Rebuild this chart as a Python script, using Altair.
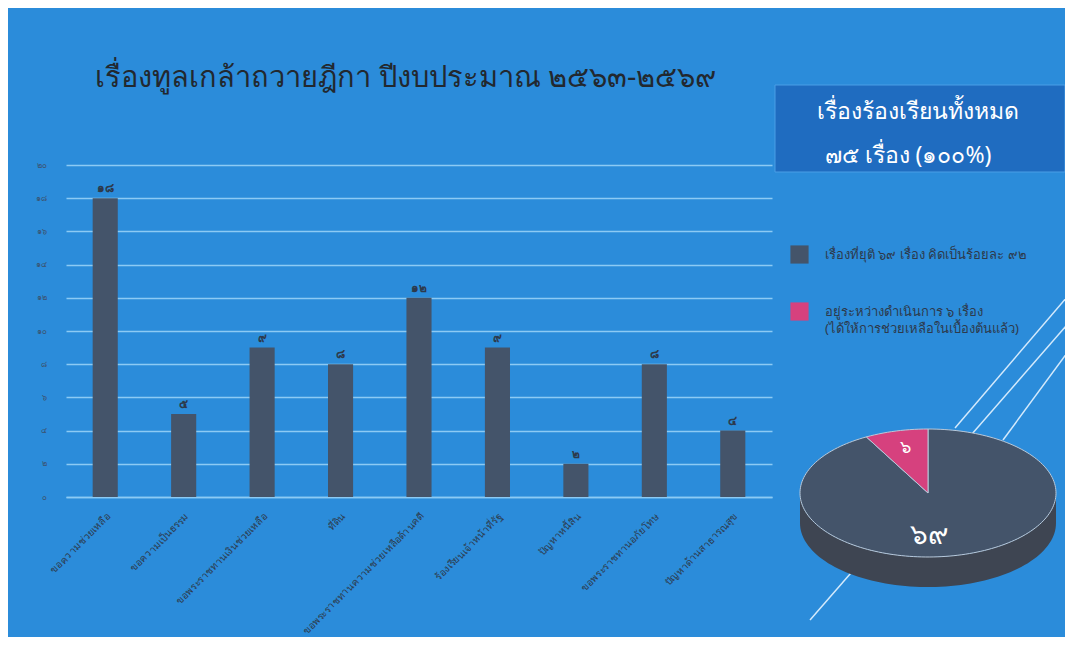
import altair as alt
import pandas as pd
import numpy as np

# ---------------- data ----------------
categories = [
    "ขอความช่วยเหลือ",
    "ขอความเป็นธรรม",
    "ขอพระราชทานเงินช่วยเหลือ",
    "ที่ดิน",
    "ขอพระราชทานความช่วยเหลือด้านคดี",
    "ร้องเรียนเจ้าหน้าที่รัฐ",
    "ปัญหาหนี้สิน",
    "ขอพระราชทานอภัยโทษ",
    "ปัญหาด้านสาธารณสุข",
]
counts = [18, 5, 9, 8, 12, 9, 2, 8, 4]
y_ticks = [0, 2, 4, 6, 8, 10, 12, 14, 16, 18, 20]

pie_status = ["เรื่องที่ยุติ ๖๙ เรื่อง คิดเป็นร้อยละ ๙๒",
              "อยู่ระหว่างดำเนินการ ๖ เรื่อง|(ได้ให้การช่วยเหลือในเบื้องต้นแล้ว)"]
pie_values = [69, 6]

title_text = "เรื่องทูลเกล้าถวายฎีกา ปีงบประมาณ ๒๕๖๓-๒๕๖๙"
box_line1 = "เรื่องร้องเรียนทั้งหมด"
box_line2 = "๗๕ เรื่อง (๑๐๐%)"

THAI = "๐๑๒๓๔๕๖๗๘๙"
def thai_num(n):
    return "".join(THAI[int(c)] for c in str(n))

bar_df = pd.DataFrame({"cat": categories, "val": counts,
                       "lab": [thai_num(v) for v in counts]})

# ---------------- pie geometry derived from values ----------------
total = sum(pie_values)
frac = [v / total for v in pie_values]
a_pink0 = np.pi / 2
a_pink1 = a_pink0 + 2 * np.pi * frac[1]
a_dark0 = a_pink1
a_dark1 = a_pink0 + 2 * np.pi
spans = {pie_status[0]: (a_dark0, a_dark1), pie_status[1]: (a_pink0, a_pink1)}

rows = []
for s, (a0, a1) in spans.items():
    n = max(8, int(200 * (a1 - a0) / (2 * np.pi)))
    pts = [(0.0, 0.0)] + [(np.cos(a), np.sin(a)) for a in np.linspace(a0, a1, n)] + [(0.0, 0.0)]
    for i, (px, py) in enumerate(pts):
        rows.append({"status": s, "ord": i, "px": px, "py": py})
face_df = pd.DataFrame(rows)

DEPTH = 0.47
side_rows = []
lower = np.linspace(np.pi, 2 * np.pi, 80)
k = 0
for a in lower:
    side_rows.append({"ord": k, "px": np.cos(a), "py": np.sin(a)}); k += 1
for a in lower[::-1]:
    side_rows.append({"ord": k, "px": np.cos(a), "py": np.sin(a) - DEPTH}); k += 1
side_df = pd.DataFrame(side_rows)

lab_rows = []
for s, v, (a0, a1), r in zip(pie_status, pie_values, [spans[pie_status[0]], spans[pie_status[1]]], [0.6, 0.72]):
    am = (a0 + a1) / 2
    lab_rows.append({"status": s, "lab": thai_num(v), "px": r * np.cos(am), "py": r * np.sin(am)})
plab_df = pd.DataFrame(lab_rows)

# ---------------- styling ----------------
BG = "#2b8cda"
BAR = "#44546A"
PINK = "#D6417E"
GRID = "#8ccaf4"
DARKTXT = "#2d3a4c"
FONT = "Noto Sans"

px_scale = alt.Scale(domain=[-1, 1], range=[734, 990])
py_scale = alt.Scale(domain=[-1, 1], range=[392, 264])
color_scale = alt.Scale(domain=pie_status, range=[BAR, PINK])

digits_expr = "['๐','๑','๒','๓','๔','๕','๖','๗','๘','๙']"
ylab_expr = (f"datum.value < 10 ? {digits_expr}[datum.value] : "
             f"{digits_expr}[floor(datum.value/10)] + {digits_expr}[datum.value % 10]")

x_axis = alt.Axis(labelAngle=-45, labelFontSize=10, labelColor=DARKTXT,
                  labelPadding=14, ticks=False, domainColor=GRID, domainWidth=1.5,
                  labelLimit=200, labelFont=FONT)
y_axis = alt.Axis(values=y_ticks, labelExpr=ylab_expr, labelFontSize=8,
                  labelColor="#3b5370", labelPadding=20, ticks=False, domain=False,
                  labelOverlap=False, gridColor=GRID, gridWidth=1.5, labelFont=FONT,
                  tickCount=11)
x_scale = alt.Scale(paddingInner=0.68, paddingOuter=0.34)
y_scale = alt.Scale(domain=[0, 20])

bars = alt.Chart(bar_df).mark_bar(color=BAR).encode(
    x=alt.X("cat:N", sort=None, title=None, scale=x_scale, axis=x_axis),
    y=alt.Y("val:Q", title=None, scale=y_scale, axis=y_axis),
)

bar_text = alt.Chart(bar_df).mark_text(dy=-10, fontSize=12, fontWeight="bold",
                                       color=DARKTXT, font=FONT).encode(
    x=alt.X("cat:N", sort=None, title=None, scale=x_scale, axis=x_axis),
    y=alt.Y("val:Q", title=None, scale=y_scale, axis=y_axis),
    text="lab:N")

bar_layer = alt.layer(bars, bar_text)

one = pd.DataFrame({"t": [title_text]})
title = alt.Chart(one).mark_text(align="left", baseline="middle", fontSize=29,
                                 color="#22282f", font=FONT).encode(
    x=alt.value(29), y=alt.value(-87), text="t:N")

box = alt.Chart(one).mark_rect(color="#1f6cc0", stroke="#4a9ee6", strokeWidth=1).encode(
    x=alt.value(709), x2=alt.value(999), y=alt.value(-80), y2=alt.value(7))
box_t1 = alt.Chart(pd.DataFrame({"t": [box_line1]})).mark_text(
    fontSize=23, color="white", font=FONT, baseline="middle").encode(
    x=alt.value(852), y=alt.value(-53), text="t:N")
box_t2 = alt.Chart(pd.DataFrame({"t": [box_line2]})).mark_text(
    fontSize=23, color="white", font=FONT, baseline="middle").encode(
    x=alt.value(842), y=alt.value(-9), text="t:N")

deco = []
for (x1, y1, x2, y2) in [(1007, 125, 889, 263), (1007, 153, 744, 455), (1007, 180, 937, 275)]:
    deco.append(alt.Chart(one).mark_rule(color="#d4eafc", strokeWidth=1.5).encode(
        x=alt.value(x1), y=alt.value(y1), x2=alt.value(x2), y2=alt.value(y2)))

side = alt.Chart(side_df).mark_line(filled=True, color="#3e4552", strokeWidth=0).encode(
    x=alt.X("px:Q", scale=px_scale, axis=None),
    y=alt.Y("py:Q", scale=py_scale, axis=None),
    order="ord:Q")

face = alt.Chart(face_df).mark_line(filled=True, stroke="#b9c9da", strokeWidth=1).encode(
    x=alt.X("px:Q", scale=px_scale, axis=None),
    y=alt.Y("py:Q", scale=py_scale, axis=None),
    color=alt.Color("status:N", scale=color_scale,
                    legend=alt.Legend(orient="none", legendX=724, legendY=80, title=None,
                                      symbolType="square", symbolSize=330, symbolStrokeWidth=0,
                                      labelFontSize=13, labelColor=DARKTXT, labelOffset=16,
                                      rowPadding=38, labelLimit=400, labelFont=FONT,
                                      labelExpr="split(datum.label, '|')")),
    detail="status:N",
    order="ord:Q")

pie_lab_small = alt.Chart(plab_df).transform_filter(
    alt.datum.status == pie_status[1]).mark_text(fontSize=18, color="white", font=FONT).encode(
    x=alt.X("px:Q", scale=px_scale, axis=None),
    y=alt.Y("py:Q", scale=py_scale, axis=None), text="lab:N")
pie_lab_big = alt.Chart(plab_df).transform_filter(
    alt.datum.status == pie_status[0]).mark_text(fontSize=28, color="white", font=FONT,
                                                 dx=-18, dy=6).encode(
    x=alt.X("px:Q", scale=px_scale, axis=None),
    y=alt.Y("py:Q", scale=py_scale, axis=None), text="lab:N")

chart = alt.layer(bar_layer, title, box, box_t1, box_t2, *deco, side, face,
                  pie_lab_small, pie_lab_big).resolve_scale(
    x="independent", y="independent").properties(
    width=706, height=332,
    padding={"left": 58, "top": 157, "right": 293, "bottom": 140},
    autosize=alt.AutoSizeParams(type="none"),
).configure(background=BG, style={"guide-label": {"lineHeight": 17}}).configure_view(stroke=None)

chart.save("out.html", embed_options={"renderer": "svg", "actions": False})
